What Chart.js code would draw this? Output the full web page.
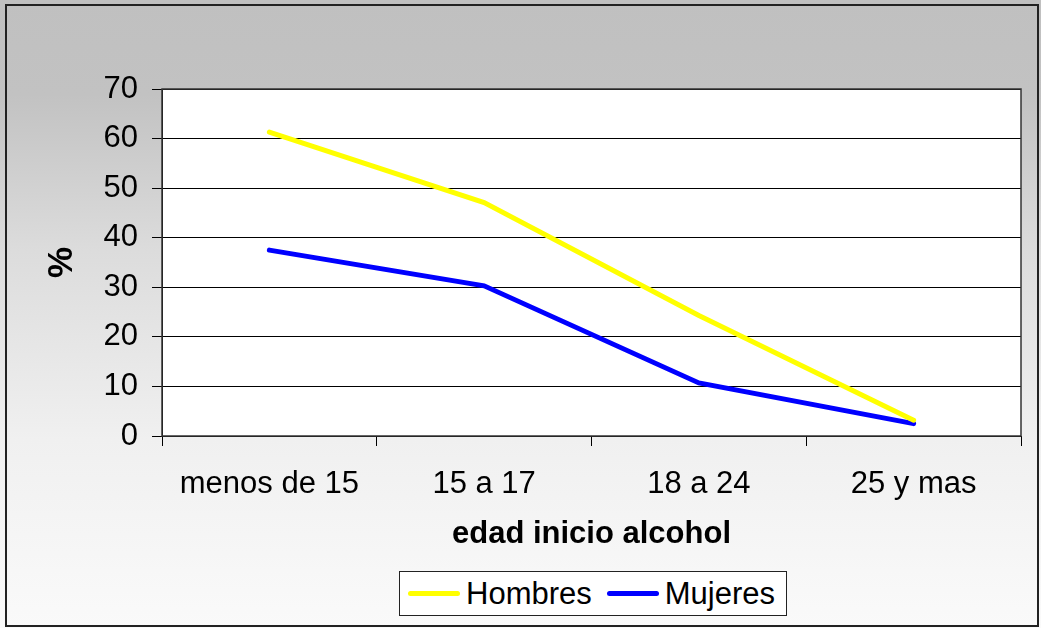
<!DOCTYPE html>
<html lang="es">
  <head>
    <meta charset="UTF-8" />
    <title>edad inicio alcohol</title>
    <style>
      body {
        margin: 0;
      }
      .container {
        position: relative;
        width: 1041px;
        height: 628px;
      }
      #legend {
        position: absolute;
        left: 399px;
        top: 571px;
        width: 388px;
        height: 45px;
        box-sizing: border-box;
        border: 1px solid #222;
        background: #fff;
        display: flex;
        align-items: center;
        font-family: "Liberation Sans", Arial, sans-serif;
        font-size: 31px;
        color: #000;
      }
      #legend span.line {
        display: inline-block;
        width: 52px;
        height: 5px;
        border-radius: 3px;
        margin-left: 8px;
        margin-right: 6px;
      }
    </style>
    <script src="https://cdn.jsdelivr.net/npm/chart.js"></script>
  </head>
  <body>
    <div class="container">
      <canvas id="chart" width="1041" height="628"></canvas>
      <div id="legend"></div>
    </div>
    <script>
      const categories = ["menos de 15", "15 a 17", "18 a 24", "25 y mas"];
      const hombres = [61.3, 47.1, 24.3, 3.2];
      const mujeres = [37.5, 30.3, 10.7, 2.5];
      const yTicks = [0, 10, 20, 30, 40, 50, 60, 70];

      const FONT = "'Liberation Sans', Arial, sans-serif";

      // fondo con degradado y borde exterior
      const background = {
        id: "background",
        beforeDraw(chart) {
          const { ctx, width, height, chartArea } = chart;
          ctx.save();
          const g = ctx.createLinearGradient(0, 0, 0, height);
          g.addColorStop(0, "#c0c0c0");
          g.addColorStop(0.15, "#c2c2c2");
          g.addColorStop(0.4, "#dcdcdc");
          g.addColorStop(0.7, "#f0f0f0");
          g.addColorStop(1, "#fafafa");
          ctx.fillStyle = g;
          ctx.fillRect(0, 0, width, height);
          ctx.fillStyle = "#fff";
          ctx.fillRect(chartArea.left, chartArea.top, chartArea.right - chartArea.left, chartArea.bottom - chartArea.top);
          ctx.strokeStyle = "#222";
          ctx.lineWidth = 2;
          ctx.strokeRect(6, 5, 1032, 621);
          ctx.restore();
        },
        afterDatasetsDraw(chart) {
          const { ctx, chartArea } = chart;
          ctx.save();
          ctx.strokeStyle = "#333";
          ctx.lineWidth = 1.5;
          ctx.strokeRect(chartArea.left, chartArea.top, chartArea.right - chartArea.left, chartArea.bottom - chartArea.top);
          ctx.restore();
        },
      };

      const chart = new Chart(document.getElementById("chart"), {
        type: "line",
        data: {
          labels: categories,
          datasets: [
            {
              label: "Hombres",
              data: hombres,
              borderColor: "#ffff00",
              backgroundColor: "#ffff00",
              borderWidth: 5,
              pointRadius: 0,
              borderCapStyle: "round",
            },
            {
              label: "Mujeres",
              data: mujeres,
              borderColor: "#0000ff",
              backgroundColor: "#0000ff",
              borderWidth: 5,
              pointRadius: 0,
              borderCapStyle: "round",
            },
          ],
        },
        options: {
          responsive: false,
          animation: false,
          layout: {
            padding: { left: 0, right: 20, top: 89, bottom: 67 },
          },
          plugins: {
            legend: { display: false },
            tooltip: { enabled: false },
          },
          scales: {
            x: {
              offset: true,
              grid: {
                offset: true,
                drawOnChartArea: false,
                color: "#000",
                tickLength: 10,
              },
              border: { color: "#000" },
              ticks: {
                color: "#000",
                padding: 20,
                maxRotation: 0,
                font: { family: FONT, size: 31 },
              },
              title: {
                display: true,
                text: "edad inicio alcohol",
                color: "#000",
                font: { family: FONT, size: 31, weight: "bold" },
                padding: { top: 0, bottom: 8 },
              },
              afterFit(scale) {
                scale.height = 125;
              },
            },
            y: {
              min: 0,
              max: 70,
              afterBuildTicks(scale) {
                scale.ticks = yTicks.map((v) => ({ value: v }));
              },
              grid: {
                color: "#000",
                tickLength: 10,
              },
              border: { color: "#000" },
              ticks: {
                color: "#000",
                padding: 14,
                font: { family: FONT, size: 31 },
              },
              title: {
                display: true,
                text: "%",
                color: "#000",
                font: { family: FONT, size: 35, weight: "bold" },
                padding: { top: 41, bottom: 0 },
              },
              afterFit(scale) {
                scale.width = 162;
              },
            },
          },
        },
        plugins: [background],
      });

      // leyenda en HTML
      const legend = document.getElementById("legend");
      chart.data.datasets.forEach((ds, i) => {
        const line = document.createElement("span");
        line.className = "line";
        line.style.background = ds.borderColor;
        if (i > 0) line.style.marginLeft = "15px";
        const txt = document.createElement("span");
        txt.textContent = ds.label;
        legend.appendChild(line);
        legend.appendChild(txt);
      });
    </script>
  </body>
</html>
